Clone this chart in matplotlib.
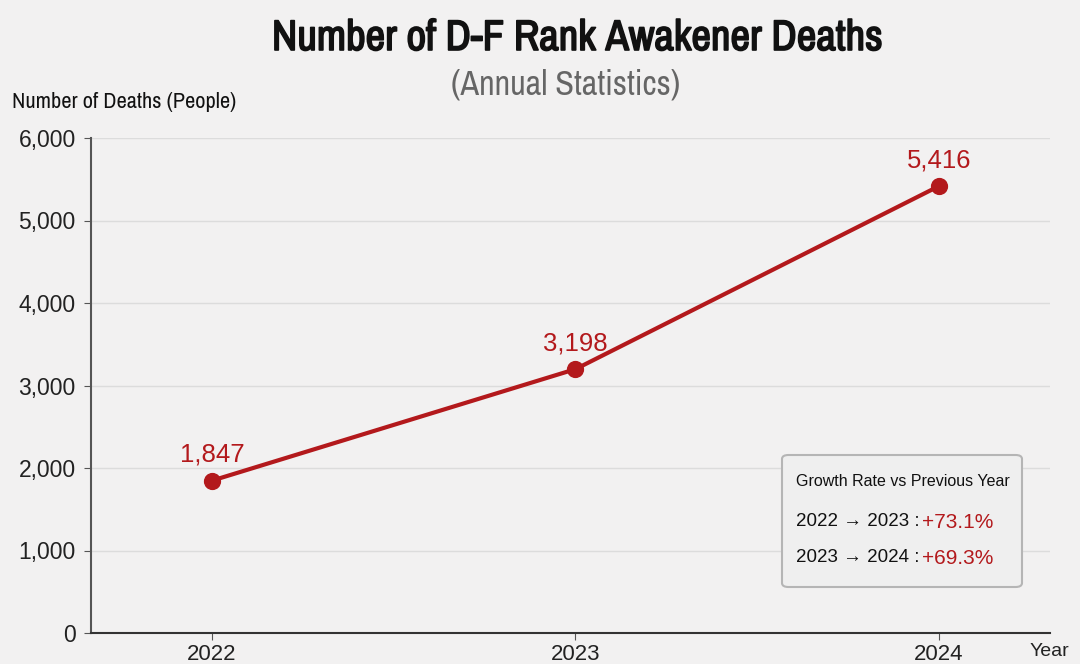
import matplotlib
matplotlib.use("Agg")
import matplotlib.pyplot as plt
from matplotlib import font_manager
import matplotlib.patheffects as pe
from matplotlib.patches import FancyBboxPatch

years = [2022, 2023, 2024]
deaths = [1847, 3198, 5416]
y_ticks = [0, 1000, 2000, 3000, 4000, 5000, 6000]
growth_labels = ["2022 \u2192 2023 : ", "2023 \u2192 2024 : "]
growth_values = ["+73.1%", "+69.3%"]

BG = "#f2f1f1"
RED = "#b3191c"
SANS = ["Liberation Sans", "DejaVu Sans"]

# look for a condensed family with a regular face
cands = {}
for f in font_manager.fontManager.ttflist:
    n = f.name
    if "Narrow" in n or "Condensed" in n:
        w = f.weight if isinstance(f.weight, int) else (700 if str(f.weight) == "bold" else 400)
        cands.setdefault(n, set()).add(w)
narrow_name = None
for n, ws in cands.items():
    if 400 in ws:
        narrow_name = n
        break
if narrow_name is None and cands:
    narrow_name = next(iter(cands))
NARROW = [narrow_name, "Liberation Sans", "DejaVu Sans"] if narrow_name else SANS

fig = plt.figure(figsize=(10.8, 6.64), dpi=100, facecolor=BG)
ax = fig.add_axes([91/1080, 1 - 633/664, (1050-91)/1080, (633-138)/664])
ax.set_facecolor(BG)

ax.plot(years, deaths, color=RED, lw=3, zorder=3, solid_capstyle="round")
ax.scatter(years, deaths, s=130, color=RED, zorder=4)
for x, y in zip(years, deaths):
    ax.annotate(f"{y:,}", (x, y), xytext=(0, 10), textcoords="offset points",
                ha="center", va="bottom", color=RED, fontsize=18.5, family=SANS)

ax.set_xlim(2021.667, 2024.306)
ax.set_ylim(0, 6000)
ax.set_xticks(years)
ax.set_xticklabels([str(y) for y in years], fontsize=16, family=SANS, color="#222")
ax.set_yticks(y_ticks)
ax.set_yticklabels([f"{v:,}" for v in y_ticks], fontsize=16.5, family=SANS, color="#222")
ax.grid(axis="y", color="#dcdcdc", lw=1)
ax.set_axisbelow(True)
for s in ["top", "right"]:
    ax.spines[s].set_visible(False)
ax.spines["left"].set_color("#555")
ax.spines["left"].set_linewidth(1.5)
ax.spines["bottom"].set_color("#333")
ax.spines["bottom"].set_linewidth(1.5)
ax.tick_params(axis="x", length=5, color="#555", pad=3)
ax.tick_params(axis="y", length=5, color="#555", pad=6)

title = fig.text(0.535, 1 - 38/664, "Number of D-F Rank Awakener Deaths", ha="center", va="center",
                 fontsize=27, family=NARROW, color="#111",
                 path_effects=[pe.withStroke(linewidth=1.2, foreground="#111")])
sub = fig.text(0.524, 1 - 84/664, "(Annual Statistics)", ha="center", va="center",
               fontsize=20, family=NARROW, color="#666")
ylab = fig.text(12/1080, 1 - 102/664, "Number of Deaths (People)", ha="left", va="center",
                fontsize=13, family=NARROW, color="#111")
fig.text(1030/1080, 1 - 652/664, "Year", ha="left", va="center",
         fontsize=14, family=SANS, color="#222")

# fit text widths to the reference layout
renderer = fig.canvas.get_renderer()
for t, target in [(title, 611), (sub, 230), (ylab, 224)]:
    w = t.get_window_extent(renderer).width
    t.set_fontsize(t.get_fontsize() * target / w)

# growth box
box = FancyBboxPatch((782/1080, 1 - 587/664), (1022-782)/1080, (587-455)/664,
                     boxstyle="round,pad=0,rounding_size=0.006", transform=fig.transFigure,
                     facecolor="#efefef", edgecolor="#b5b5b5", lw=1.5, zorder=5)
fig.patches.append(box)
fig.text(796/1080, 1 - 482/664, "Growth Rate vs Previous Year", ha="left", va="center",
         fontsize=11.5, family=SANS, color="#111", zorder=6)
for i, (lab, val) in enumerate(zip(growth_labels, growth_values)):
    yy = 1 - (522 + 36*i)/664
    fig.text(796/1080, yy, lab, ha="left", va="center", fontsize=13.5,
             family=SANS, color="#111", zorder=6)
    fig.text(922/1080, yy, val, ha="left", va="center", fontsize=15,
             family=SANS, color=RED, zorder=6)

fig.savefig("out.png", dpi=100, facecolor=BG)
